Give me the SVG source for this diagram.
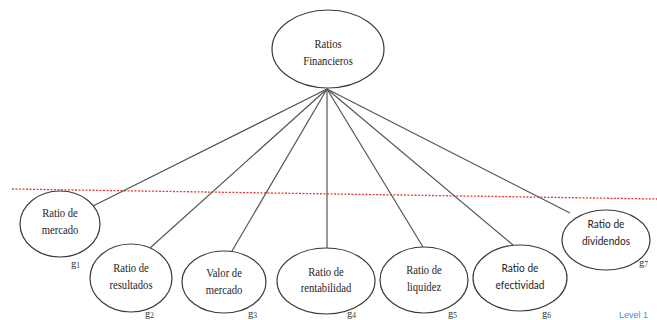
<svg xmlns="http://www.w3.org/2000/svg" width="657" height="320" viewBox="0 0 657 320">
  <style>
    .node ellipse { fill: #ffffff; stroke: #3a3a3a; stroke-width: 1.2; }
    .lbl { font-family: "Liberation Serif", "Times New Roman", serif; font-size: 12.5px; fill: #1e1e1e; text-anchor: middle; }
    .lbl-sans { font-family: "Lato", "Liberation Sans", sans-serif; font-size: 11.5px; fill: #1e1e1e; text-anchor: middle; }
    .g { font-family: "Liberation Serif", "Times New Roman", serif; font-size: 10.5px; fill: #333; }
    .g tspan { font-size: 7.5px; }
    .edges line { stroke: #555; stroke-width: 1.2; }
    .cut { stroke: #e53935; stroke-width: 1.3; stroke-dasharray: 2 1.5; }
    .level { font-family: "Liberation Sans", Arial, sans-serif; font-size: 9px; fill: #4a8ad6; }
  </style>
  <rect width="657" height="320" fill="#ffffff"/>

  <!-- dashed cut line -->
  <line class="cut" x1="12" y1="189" x2="657" y2="199"/>

  <!-- connectors from the root -->
  <g id="connectors" class="edges">
    <line x1="327" y1="89" x2="93" y2="206"/>
    <line x1="327" y1="89" x2="150" y2="248"/>
    <line x1="327" y1="89" x2="232" y2="251"/>
    <line x1="327" y1="89" x2="327" y2="248"/>
    <line x1="327" y1="89" x2="423" y2="247"/>
    <line x1="327" y1="89" x2="513" y2="245"/>
    <line x1="327" y1="89" x2="570" y2="213"/>
  </g>

  <g id="root" class="node">
    <ellipse cx="328" cy="49" rx="56" ry="39"/>
    <text class="lbl" font-size="14" transform="translate(328 0) scale(0.85 1)" x="0" y="48">Ratios</text>
    <text class="lbl" font-size="14" transform="translate(328 0) scale(0.85 1)" x="0" y="65">Financieros</text>
  </g>

  <g id="n1" class="node">
    <ellipse cx="60" cy="224" rx="40" ry="33"/>
    <text class="lbl" transform="translate(60 0) scale(0.85 1)" x="0" y="217">Ratio de</text>
    <text class="lbl" transform="translate(60 0) scale(0.85 1)" x="0" y="234">mercado</text>
    <text class="g" x="71" y="267">g<tspan dy="1">1</tspan></text>
  </g>

  <g id="n2" class="node">
    <ellipse cx="131" cy="278" rx="41" ry="34"/>
    <text class="lbl" transform="translate(131 0) scale(0.85 1)" x="0" y="272">Ratio de</text>
    <text class="lbl" transform="translate(131 0) scale(0.85 1)" x="0" y="289">resultados</text>
    <text class="g" x="145" y="317">g<tspan dy="1">2</tspan></text>
  </g>

  <g id="n3" class="node">
    <ellipse cx="224" cy="282" rx="42" ry="31"/>
    <text class="lbl" transform="translate(224 0) scale(0.85 1)" x="0" y="277">Valor de</text>
    <text class="lbl" transform="translate(224 0) scale(0.85 1)" x="0" y="294">mercado</text>
    <text class="g" x="248" y="317">g<tspan dy="1">3</tspan></text>
  </g>

  <g id="n4" class="node">
    <ellipse cx="326" cy="281" rx="49" ry="33"/>
    <text class="lbl" transform="translate(326 0) scale(0.85 1)" x="0" y="276">Ratio de</text>
    <text class="lbl" transform="translate(326 0) scale(0.85 1)" x="0" y="292">rentabilidad</text>
    <text class="g" x="347" y="317">g<tspan dy="1">4</tspan></text>
  </g>

  <g id="n5" class="node">
    <ellipse cx="424" cy="280" rx="44" ry="33"/>
    <text class="lbl" transform="translate(424 0) scale(0.85 1)" x="0" y="274">Ratio de</text>
    <text class="lbl" transform="translate(424 0) scale(0.85 1)" x="0" y="291">liquidez</text>
    <text class="g" x="448" y="317">g<tspan dy="1">5</tspan></text>
  </g>

  <g id="n6" class="node">
    <ellipse cx="520" cy="278" rx="47" ry="33"/>
    <text class="lbl-sans" transform="translate(520 0) scale(0.88 1)" x="0" y="272">Ratio de</text>
    <text class="lbl-sans" transform="translate(520 0) scale(0.88 1)" x="0" y="289">efectividad</text>
    <text class="g" x="542" y="317">g<tspan dy="1">6</tspan></text>
  </g>

  <g id="n7" class="node">
    <ellipse cx="606" cy="240" rx="44" ry="30"/>
    <text class="lbl-sans" transform="translate(606 0) scale(0.88 1)" x="0" y="228">Ratio de</text>
    <text class="lbl-sans" transform="translate(606 0) scale(0.88 1)" x="0" y="245">dividendos</text>
    <text class="g" x="639" y="266">g<tspan dy="1">7</tspan></text>
  </g>

  <text class="level" x="619" y="318">Level 1</text>
</svg>
